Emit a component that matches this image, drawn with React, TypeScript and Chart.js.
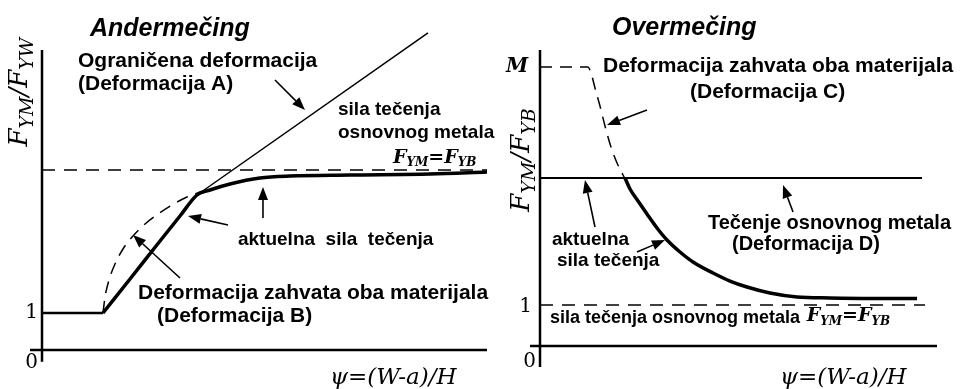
import React, { useEffect, useRef } from 'react';
import { Chart, registerables } from 'chart.js';
Chart.register(...registerables);

// ---------- Left panel: Andermečing ----------
const leftAxisXx = [-0.27, 10];
const leftAxisXy = [0, 0];
const leftAxisYx = [0, 0];
const leftAxisYy = [-0.32, 8.11];
const leftBaseX = [0, 1.371];
const leftBaseY = [1, 1];
const leftActualX = [1.371, 1.978, 2.652, 3.101, 3.483, 3.775, 4.225, 4.899, 5.573, 6.921, 8.719, 10];
const leftActualY = [1.0, 1.919, 2.946, 3.622, 4.189, 4.324, 4.486, 4.649, 4.703, 4.73, 4.757, 4.811];
const leftConstrainedX = [1.371, 3.483, 8.674];
const leftConstrainedY = [1.0, 4.189, 8.568];
const leftBaseMetalX = [0, 10];
const leftBaseMetalY = [4.865, 4.865];
const leftBothX = [1.371, 1.416, 1.506, 1.64, 1.82, 2.045, 2.315, 2.607, 2.921, 3.258, 3.551];
const leftBothY = [1.0, 1.432, 1.892, 2.324, 2.73, 3.081, 3.405, 3.676, 3.919, 4.135, 4.27];

// ---------- Right panel: Overmečing ----------
const rightAxisXx = [-0.252, 10];
const rightAxisXy = [0, 0];
const rightAxisYx = [0, 0];
const rightAxisYy = [-0.512, 7.22];
const rightBothX = [0, 1.209, 1.285, 1.385, 1.511, 1.637, 1.788, 1.94, 2.091, 2.217];
const rightBothY = [6.805, 6.805, 6.659, 6.293, 5.854, 5.366, 4.854, 4.463, 4.171, 3.951];
const rightBaseFlowX = [0, 9.622];
const rightBaseFlowY = [4.098, 4.098];
const rightActualX = [2.141, 2.267, 2.469, 2.695, 2.947, 3.199, 3.526, 3.854, 4.358, 4.786, 5.214, 5.793, 6.474, 7.305, 8.312, 9.496];
const rightActualY = [4.098, 3.829, 3.537, 3.22, 2.878, 2.585, 2.293, 2.049, 1.78, 1.585, 1.439, 1.293, 1.195, 1.171, 1.159, 1.159];
const rightOneX = [0, 9.698];
const rightOneY = [1, 1];

const SANS = '"Liberation Sans", Arial, sans-serif';
const SERIF = '"DejaVu Serif", serif';

type Seg = { t: string; sub?: boolean };
type Label = {
  x: number; y: number; segs: Seg[]; size: number; subSize?: number;
  family: string; style?: string; weight?: string;
  align?: 'left' | 'right' | 'center'; rotate?: boolean;
};
type Arrow = { x1: number; y1: number; x2: number; y2: number };

const T = (t: string): Seg[] => [{ t }];

const leftLabels: Label[] = [
  { x: 1.079, y: 8.68, segs: T('Andermečing'), size: 25, family: SANS, style: 'italic', weight: 'bold' },
  { x: 0.809, y: 7.8, segs: T('Ograničena deformacija'), size: 21, family: SANS, weight: 'bold' },
  { x: 0.809, y: 7.19, segs: T('(Deformacija A)'), size: 21, family: SANS, weight: 'bold' },
  { x: 6.652, y: 6.486, segs: T('sila tečenja'), size: 19, family: SANS, weight: 'bold' },
  { x: 6.652, y: 5.865, segs: T('osnovnog metala'), size: 19, family: SANS, weight: 'bold' },
  { x: 7.888, y: 5.2, segs: [{ t: 'F' }, { t: 'YM', sub: true }, { t: '=F' }, { t: 'YB', sub: true }], size: 19, subSize: 12, family: SERIF, style: 'italic', weight: 'bold' },
  { x: 4.404, y: 2.973, segs: T('aktuelna  sila  tečenja'), size: 19, family: SANS, weight: 'bold' },
  { x: 2.157, y: 1.54, segs: T('Deformacija zahvata oba materijala'), size: 21, family: SANS, weight: 'bold' },
  { x: 2.584, y: 0.9, segs: T('(Deformacija B)'), size: 21, family: SANS, weight: 'bold' },
  { x: -0.09, y: 1, segs: T('1'), size: 20, family: SERIF, align: 'right' },
  { x: -0.09, y: -0.351, segs: T('0'), size: 20, family: SERIF, align: 'right' },
  { x: 6.472, y: -0.757, segs: T('ψ=(W-a)/H'), size: 23, family: SERIF, style: 'italic' },
  { x: -0.494, y: 6.97, segs: [{ t: 'F' }, { t: 'YM', sub: true }, { t: '/F' }, { t: 'YW', sub: true }], size: 26, subSize: 19, family: SERIF, style: 'italic', align: 'center', rotate: true },
];
const leftArrows: Arrow[] = [
  { x1: 5.236, y1: 7.297, x2: 5.91, y2: 6.486 },
  { x1: 4.966, y1: 3.568, x2: 4.966, y2: 4.405 },
  { x1: 4.18, y1: 3.378, x2: 3.281, y2: 3.622 },
  { x1: 3.101, y1: 1.946, x2: 2.045, y2: 3.108 },
];

const rightLabels: Label[] = [
  { x: 1.814, y: 7.75, segs: T('Overmečing'), size: 25, family: SANS, style: 'italic', weight: 'bold' },
  { x: -0.3, y: 6.805, segs: T('M'), size: 20, family: SERIF, style: 'italic', weight: 'bold', align: 'right' },
  { x: 1.587, y: 6.829, segs: T('Deformacija zahvata oba materijala'), size: 21, family: SANS, weight: 'bold' },
  { x: 3.778, y: 6.195, segs: T('(Deformacija C)'), size: 21, family: SANS, weight: 'bold' },
  { x: 0.302, y: 2.585, segs: T('aktuelna'), size: 19, family: SANS, weight: 'bold' },
  { x: 0.428, y: 2.073, segs: T('sila tečenja'), size: 19, family: SANS, weight: 'bold' },
  { x: 4.232, y: 3.0, segs: T('Tečenje osnovnog metala'), size: 20, family: SANS, weight: 'bold' },
  { x: 4.836, y: 2.488, segs: T('(Deformacija D)'), size: 20, family: SANS, weight: 'bold' },
  { x: -0.2, y: 0.95, segs: T('1'), size: 20, family: SERIF, align: 'right' },
  { x: 0.252, y: 0.683, segs: T('sila tečenja osnovnog metala'), size: 18, family: SANS, weight: 'bold' },
  { x: 6.72, y: 0.72, segs: [{ t: 'F' }, { t: 'YM', sub: true }, { t: '=F' }, { t: 'YB', sub: true }], size: 19, subSize: 12, family: SERIF, style: 'italic', weight: 'bold' },
  { x: -0.1, y: -0.39, segs: T('0'), size: 20, family: SERIF, align: 'right' },
  { x: 6.045, y: -0.78, segs: T('ψ=(W-a)/H'), size: 23, family: SERIF, style: 'italic' },
  { x: -0.453, y: 4.537, segs: [{ t: 'F' }, { t: 'YM', sub: true }, { t: '/F' }, { t: 'YB', sub: true }], size: 26, subSize: 19, family: SERIF, style: 'italic', align: 'center', rotate: true },
];
const rightArrows: Arrow[] = [
  { x1: 2.695, y1: 5.756, x2: 1.688, y2: 5.39 },
  { x1: 1.385, y1: 2.902, x2: 1.133, y2: 4.049 },
  { x1: 2.443, y1: 2.293, x2: 3.148, y2: 2.585 },
  { x1: 6.373, y1: 3.268, x2: 6.121, y2: 3.927 },
];

const pts = (xs: number[], ys: number[]) => xs.map((x, i) => ({ x, y: ys[i] }));

function ds(xs: number[], ys: number[], width: number, dash: number[] = [], smooth = false) {
  return {
    data: pts(xs, ys),
    borderColor: '#000',
    borderWidth: width,
    borderDash: dash,
    pointRadius: 0,
    fill: false,
    tension: smooth ? 0.4 : 0,
    cubicInterpolationMode: smooth ? 'monotone' : 'default',
    clip: false,
    borderCapStyle: 'butt',
    borderJoinStyle: 'round',
  };
}

function drawLabel(chart: any, lab: Label) {
  const ctx: CanvasRenderingContext2D = chart.ctx;
  const px = chart.scales.x.getPixelForValue(lab.x);
  const py = chart.scales.y.getPixelForValue(lab.y);
  const fontOf = (s: Seg) =>
    `${lab.style || 'normal'} ${lab.weight || 'normal'} ${s.sub ? lab.subSize : lab.size}px ${lab.family}`;
  ctx.save();
  ctx.translate(px, py);
  if (lab.rotate) ctx.rotate(-Math.PI / 2);
  let w = 0;
  const ws = lab.segs.map((s) => {
    ctx.font = fontOf(s);
    const m = ctx.measureText(s.t).width;
    w += m;
    return m;
  });
  let cx = lab.align === 'right' ? -w : lab.align === 'center' ? -w / 2 : 0;
  ctx.fillStyle = '#000';
  ctx.textBaseline = 'middle';
  ctx.textAlign = 'left';
  lab.segs.forEach((s, i) => {
    ctx.font = fontOf(s);
    ctx.fillText(s.t, cx, s.sub ? lab.size * 0.3 : 0);
    cx += ws[i];
  });
  ctx.restore();
}

function drawArrow(chart: any, a: Arrow) {
  const ctx: CanvasRenderingContext2D = chart.ctx;
  const sx = chart.scales.x, sy = chart.scales.y;
  const x1 = sx.getPixelForValue(a.x1), y1 = sy.getPixelForValue(a.y1);
  const x2 = sx.getPixelForValue(a.x2), y2 = sy.getPixelForValue(a.y2);
  const ang = Math.atan2(y2 - y1, x2 - x1);
  const L = 13, W = 5;
  const bx = x2 - L * Math.cos(ang), by = y2 - L * Math.sin(ang);
  ctx.save();
  ctx.strokeStyle = '#000';
  ctx.fillStyle = '#000';
  ctx.lineWidth = 1.6;
  ctx.beginPath();
  ctx.moveTo(x1, y1);
  ctx.lineTo(bx, by);
  ctx.stroke();
  ctx.beginPath();
  ctx.moveTo(x2, y2);
  ctx.lineTo(bx + W * Math.sin(ang), by - W * Math.cos(ang));
  ctx.lineTo(bx - W * Math.sin(ang), by + W * Math.cos(ang));
  ctx.closePath();
  ctx.fill();
  ctx.restore();
}

type PanelCfg = {
  datasets: any[];
  xMin: number; xMax: number; yMin: number; yMax: number;
  labels: Label[]; arrows: Arrow[];
};

const leftCfg: PanelCfg = {
  datasets: [
    ds(leftAxisXx, leftAxisXy, 2.5),
    ds(leftAxisYx, leftAxisYy, 2.5),
    ds(leftBaseMetalX, leftBaseMetalY, 1.5, [13, 9]),
    ds(leftConstrainedX, leftConstrainedY, 1.5),
    ds(leftBothX, leftBothY, 1.5, [12, 8], true),
    ds(leftBaseX, leftBaseY, 2.5),
    ds(leftActualX, leftActualY, 3.5, [], true),
  ],
  xMin: -42 / 44.5, xMax: (960 - 42) / 44.5, yMin: -(389 - 350) / 37, yMax: 350 / 37,
  labels: leftLabels, arrows: leftArrows,
};

const rightCfg: PanelCfg = {
  datasets: [
    ds(rightAxisXx, rightAxisXy, 2.5),
    ds(rightAxisYx, rightAxisYy, 2.5),
    ds(rightOneX, rightOneY, 1.5, [13, 9]),
    ds(rightBaseFlowX, rightBaseFlowY, 1.8),
    ds(rightBothX, rightBothY, 1.5, [12, 8], true),
    ds(rightActualX, rightActualY, 3.5, [], true),
  ],
  xMin: -540 / 39.7, xMax: 420 / 39.7, yMin: -(389 - 346) / 41, yMax: 346 / 41,
  labels: rightLabels, arrows: rightArrows,
};

function Panel({ cfg }: { cfg: PanelCfg }) {
  const ref = useRef<HTMLCanvasElement>(null);
  useEffect(() => {
    if (!ref.current) return;
    const annot = {
      id: 'annot',
      afterDatasetsDraw(chart: any) {
        cfg.arrows.forEach((a) => drawArrow(chart, a));
        cfg.labels.forEach((l) => drawLabel(chart, l));
      },
    };
    const chart = new Chart(ref.current, {
      type: 'line',
      data: { datasets: cfg.datasets as any },
      options: {
        animation: false,
        responsive: false,
        devicePixelRatio: 1,
        layout: { padding: 0 },
        scales: {
          x: { type: 'linear', display: false, min: cfg.xMin, max: cfg.xMax },
          y: { type: 'linear', display: false, min: cfg.yMin, max: cfg.yMax },
        },
        plugins: { legend: { display: false }, tooltip: { enabled: false } },
        events: [],
      } as any,
      plugins: [annot],
    });
    return () => chart.destroy();
  }, [cfg]);
  return (
    <canvas
      ref={ref}
      width={960}
      height={389}
      style={{ position: 'absolute', left: 0, top: 0, width: 960, height: 389 }}
    />
  );
}

export default function App() {
  useEffect(() => {
    document.body.style.margin = '0';
    document.body.style.background = '#fff';
  }, []);
  return (
    <div style={{ position: 'relative', width: 960, height: 389, background: '#fff', overflow: 'hidden' }}>
      <Panel cfg={leftCfg} />
      <Panel cfg={rightCfg} />
    </div>
  );
}
